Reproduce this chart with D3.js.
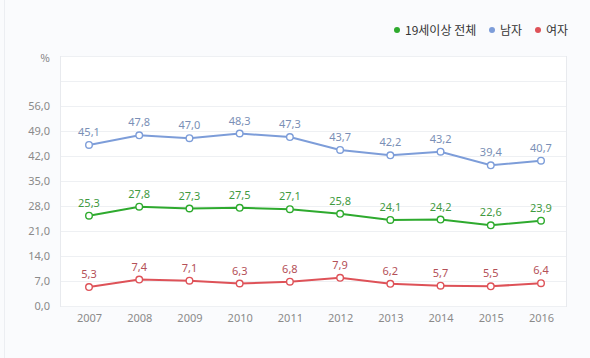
<!DOCTYPE html>
<html><head><meta charset="utf-8">
<script src="https://cdn.jsdelivr.net/npm/d3@7"></script>
<style>
html,body{margin:0;padding:0;background:#fafbfd;}
svg{display:block;font-family:"Noto Sans CJK KR","Noto Sans",sans-serif;}
</style></head>
<body>
<svg id="chart" width="590" height="358"></svg>
<script>
const years = ["2007","2008","2009","2010","2011","2012","2013","2014","2015","2016"];
const totalValues = [25.3,27.8,27.3,27.5,27.1,25.8,24.1,24.2,22.6,23.9];
const maleValues = [45.1,47.8,47.0,48.3,47.3,43.7,42.2,43.2,39.4,40.7];
const femaleValues = [5.3,7.4,7.1,6.3,6.8,7.9,6.2,5.7,5.5,6.4];
const seriesNames = ["19세이상 전체","남자","여자"];
const yTicks = [0,7,14,21,28,35,42,49,56];
const gridTicks = [0,7,14,21,28,35,42,49,56,63,70];

(function(){
const series = [
  {name: seriesNames[0], values: totalValues, line:"#2eaa2e", label:"#3f9a3f"},
  {name: seriesNames[1], values: maleValues, line:"#7d9dd9", label:"#7a8fb6"},
  {name: seriesNames[2], values: femaleValues, line:"#de5258", label:"#b45058"}
];

const svg = d3.select("#chart");
const pL=60, pR=567, pT=56, pB=306;

svg.append("line").attr("x1",4.5).attr("x2",4.5).attr("y1",0).attr("y2",358)
  .attr("stroke","#eceef2").attr("stroke-width",1);

const x = d3.scalePoint().domain(years).range([89,541]);
const y = d3.scaleLinear().domain([0,70]).range([pB,pT]);

svg.append("rect").attr("x",pL+0.5).attr("y",pT+0.5)
  .attr("width",pR-pL-1).attr("height",pB-pT)
  .attr("fill","#fff").attr("stroke","#e8eaee");

svg.append("g").selectAll("line").data(gridTicks).join("line")
  .attr("x1",pL+1).attr("x2",pR-1)
  .attr("y1",d=>Math.round(y(d))+0.5).attr("y2",d=>Math.round(y(d))+0.5)
  .attr("stroke","#eef0f3");

const yAxis = d3.axisLeft(y).tickValues(yTicks).tickSize(0).tickPadding(0)
  .tickFormat(d=>d3.format(".1f")(d).replace(".",","));
const gy = svg.append("g").attr("transform",`translate(50,0)`).call(yAxis);
gy.select(".domain").remove();
gy.selectAll("text").attr("fill","#8a8a8a").attr("font-size",11)
  .attr("font-family","'Noto Sans',sans-serif");

svg.append("text").attr("x",45).attr("y",62).attr("text-anchor","middle")
  .attr("font-size",10).attr("fill","#777").text("%");

const xAxis = d3.axisBottom(x).tickSize(0).tickPadding(0);
const gx = svg.append("g").attr("transform",`translate(0,${pB+8})`).call(xAxis);
gx.select(".domain").remove();
gx.selectAll("text").attr("fill","#8a8a8a").attr("font-size",11)
  .attr("font-family","'Noto Sans',sans-serif");

const line = d3.line().x((d,i)=>x(years[i])).y(d=>y(d));

series.forEach(s=>{
  const g = svg.append("g");
  g.append("path").datum(s.values).attr("d",line)
    .attr("fill","none").attr("stroke",s.line).attr("stroke-width",2);
  g.selectAll("circle").data(s.values).join("circle")
    .attr("cx",(d,i)=>x(years[i])).attr("cy",d=>y(d)).attr("r",3.3)
    .attr("fill","#fff").attr("stroke",s.line).attr("stroke-width",1.4);
  g.selectAll("text").data(s.values).join("text")
    .attr("x",(d,i)=>x(years[i])).attr("y",d=>y(d)-9)
    .attr("text-anchor","middle").attr("font-size",11)
    .attr("font-family","'Noto Sans',sans-serif")
    .attr("fill",s.label)
    .text(d=>d3.format(".1f")(d).replace(".",","));
});

const legendX = [397, 492, 538];
const lg = svg.append("g");
series.forEach((s,i)=>{
  lg.append("circle").attr("cx",legendX[i]).attr("cy",30).attr("r",3)
    .attr("fill",s.line);
  lg.append("text").attr("x",legendX[i]+8).attr("y",34.5)
    .attr("font-size",12).attr("fill","#333").text(s.name);
});
})();
</script>
</body></html>
